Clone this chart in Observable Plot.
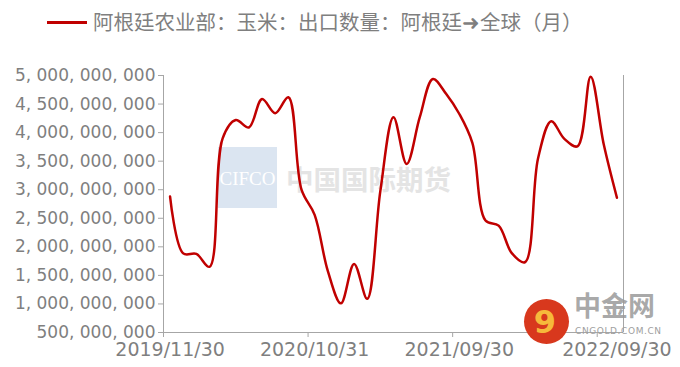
<!DOCTYPE html>
<html>
<head>
<meta charset="utf-8">
<script src="https://cdn.jsdelivr.net/npm/d3@7"></script>
<script src="https://cdn.jsdelivr.net/npm/@observablehq/plot@0.6"></script>
<style>
  body { margin: 0; background: #fff; width: 680px; height: 367px; overflow: hidden; }
  #legend { position: relative; height: 45px; font-family: "Noto Sans CJK SC", sans-serif; }
  #legend .swatch { position: absolute; left: 47px; top: 21px; width: 40px; height: 3px; background: #c00000; }
  #legend .label { position: absolute; left: 93px; top: 7px; font-size: 20.5px; line-height: 28px; color: #7f7f7f; white-space: nowrap; }
</style>
</head>
<body>
<div id="legend"><span class="swatch"></span><span class="label">阿根廷农业部：玉米：出口数量：阿根廷➜全球（月）</span></div>
<div id="chart"></div>
<script>
// Month-end categories
const dates = [
  "2019/11/30","2019/12/31","2020/01/31","2020/02/29","2020/03/31","2020/04/30",
  "2020/05/31","2020/06/30","2020/07/31","2020/08/31","2020/09/30","2020/10/31",
  "2020/11/30","2020/12/31","2021/01/31","2021/02/28","2021/03/31","2021/04/30",
  "2021/05/31","2021/06/30","2021/07/31","2021/08/31","2021/09/30","2021/10/31",
  "2021/11/30","2021/12/31","2022/01/31","2022/02/28","2022/03/31","2022/04/30",
  "2022/05/31","2022/06/30","2022/07/31","2022/08/31","2022/09/30"
];
// Export quantity
const exportQty = [
  2880000000, 1885000000, 1875000000, 1650000000, 3900000000, 4220000000,
  4090000000, 4590000000, 4340000000, 4620000000, 3000000000, 2560000000,
  1580000000, 1010000000, 1700000000, 1090000000, 2980000000, 4270000000,
  3450000000, 4270000000, 4940000000, 4680000000, 4330000000, 3820000000,
  2460000000, 2370000000, 1890000000, 1730000000, 3550000000, 4200000000,
  3890000000, 3760000000, 4980000000, 3790000000, 2860000000
];
const yTicks = [500000000, 1000000000, 1500000000, 2000000000, 2500000000,
  3000000000, 3500000000, 4000000000, 4500000000, 5000000000];
const xLabelIdx = [0, 11, 22, 34];      // categories that carry a date label
const xTickMarkIdx = [0, 11, 22, 33];   // categories whose left edge carries a tick mark

const rows = exportQty.map((v, i) => ({i, date: dates[i], v}));
const n = dates.length;
const fmtY = d => d3.format(",")(d).replace(/,/g, ", ");
const axisColor = "#a6a6a6";
const textColor = "#7f7f7f";

const chart = Plot.plot({
  width: 680,
  height: 322,
  marginLeft: 163,
  marginRight: 57,
  marginTop: 30,
  marginBottom: 35,
  x: {domain: [-0.5, n - 0.5], axis: null},
  y: {domain: [yTicks[0], yTicks[yTicks.length - 1]], axis: null},
  style: {fontFamily: "DejaVu Sans", background: "white", color: textColor},
  marks: [
    Plot.axisY({ticks: yTicks, tickSize: 5, tickPadding: 3, tickFormat: fmtY,
      fontSize: 17, stroke: axisColor, fill: textColor, label: null}),
    Plot.axisX({ticks: xTickMarkIdx.map(i => i - 0.5), tickSize: 5, tickFormat: () => "",
      stroke: axisColor, label: null}),
    Plot.axisX({ticks: xLabelIdx, tickSize: 0, tickPadding: 10, tickFormat: i => dates[i],
      fontSize: 19, fill: textColor, label: null}),
    Plot.ruleX([-0.5, n - 0.5], {stroke: axisColor, strokeWidth: 1}),
    Plot.ruleY([yTicks[0]], {stroke: axisColor, strokeWidth: 1}),
    Plot.line(rows, {x: "i", y: "v", stroke: "#c00000", strokeWidth: 2.5, curve: "catmull-rom"})
  ]
});
document.getElementById("chart").appendChild(chart);

// Decorative watermarks (not data)
const svg = d3.select(chart);
const wm = svg.insert("g", ":first-child").attr("class", "watermark").attr("text-anchor", "start");
wm.append("rect").attr("x", 218).attr("y", 102).attr("width", 59).attr("height", 61).attr("fill", "#dbe5f1");
wm.append("text").attr("x", 247.5).attr("y", 133).attr("text-anchor", "middle").attr("dominant-baseline", "central")
  .attr("font-family", "Liberation Serif").attr("font-size", 19).attr("fill", "#ffffff").text("CIFCO");
wm.append("text").attr("x", 286).attr("y", 133).attr("text-anchor", "start").attr("dominant-baseline", "central")
  .attr("font-family", "Noto Sans CJK SC").attr("font-weight", "bold").attr("font-size", 27.5).attr("fill", "#e4e4e4").text("中国国际期货");

const logo = svg.append("g").attr("class", "logo");
logo.append("circle").attr("cx", 546.5).attr("cy", 276.5).attr("r", 22.5).attr("fill", "#d8381d");
logo.append("text").attr("x", 545).attr("y", 277).attr("text-anchor", "middle").attr("dominant-baseline", "central")
  .attr("font-family", "DejaVu Sans").attr("font-weight", "bold").attr("font-size", 32).attr("fill", "#f6b93b").text("9");
logo.append("text").attr("x", 574).attr("y", 259).attr("text-anchor", "start").attr("dominant-baseline", "central")
  .attr("font-family", "Noto Sans CJK SC").attr("font-weight", "bold").attr("font-size", 27).attr("fill", "#9a9a9a").attr("fill-opacity", 0.85).text("中金网");
logo.append("text").attr("x", 575).attr("y", 285.5).attr("text-anchor", "start").attr("dominant-baseline", "central")
  .attr("font-family", "DejaVu Sans").attr("font-size", 9).attr("letter-spacing", 0.6).attr("fill", "#a0a0a0").text("CNGOLD.COM.CN");
</script>
</body>
</html>
